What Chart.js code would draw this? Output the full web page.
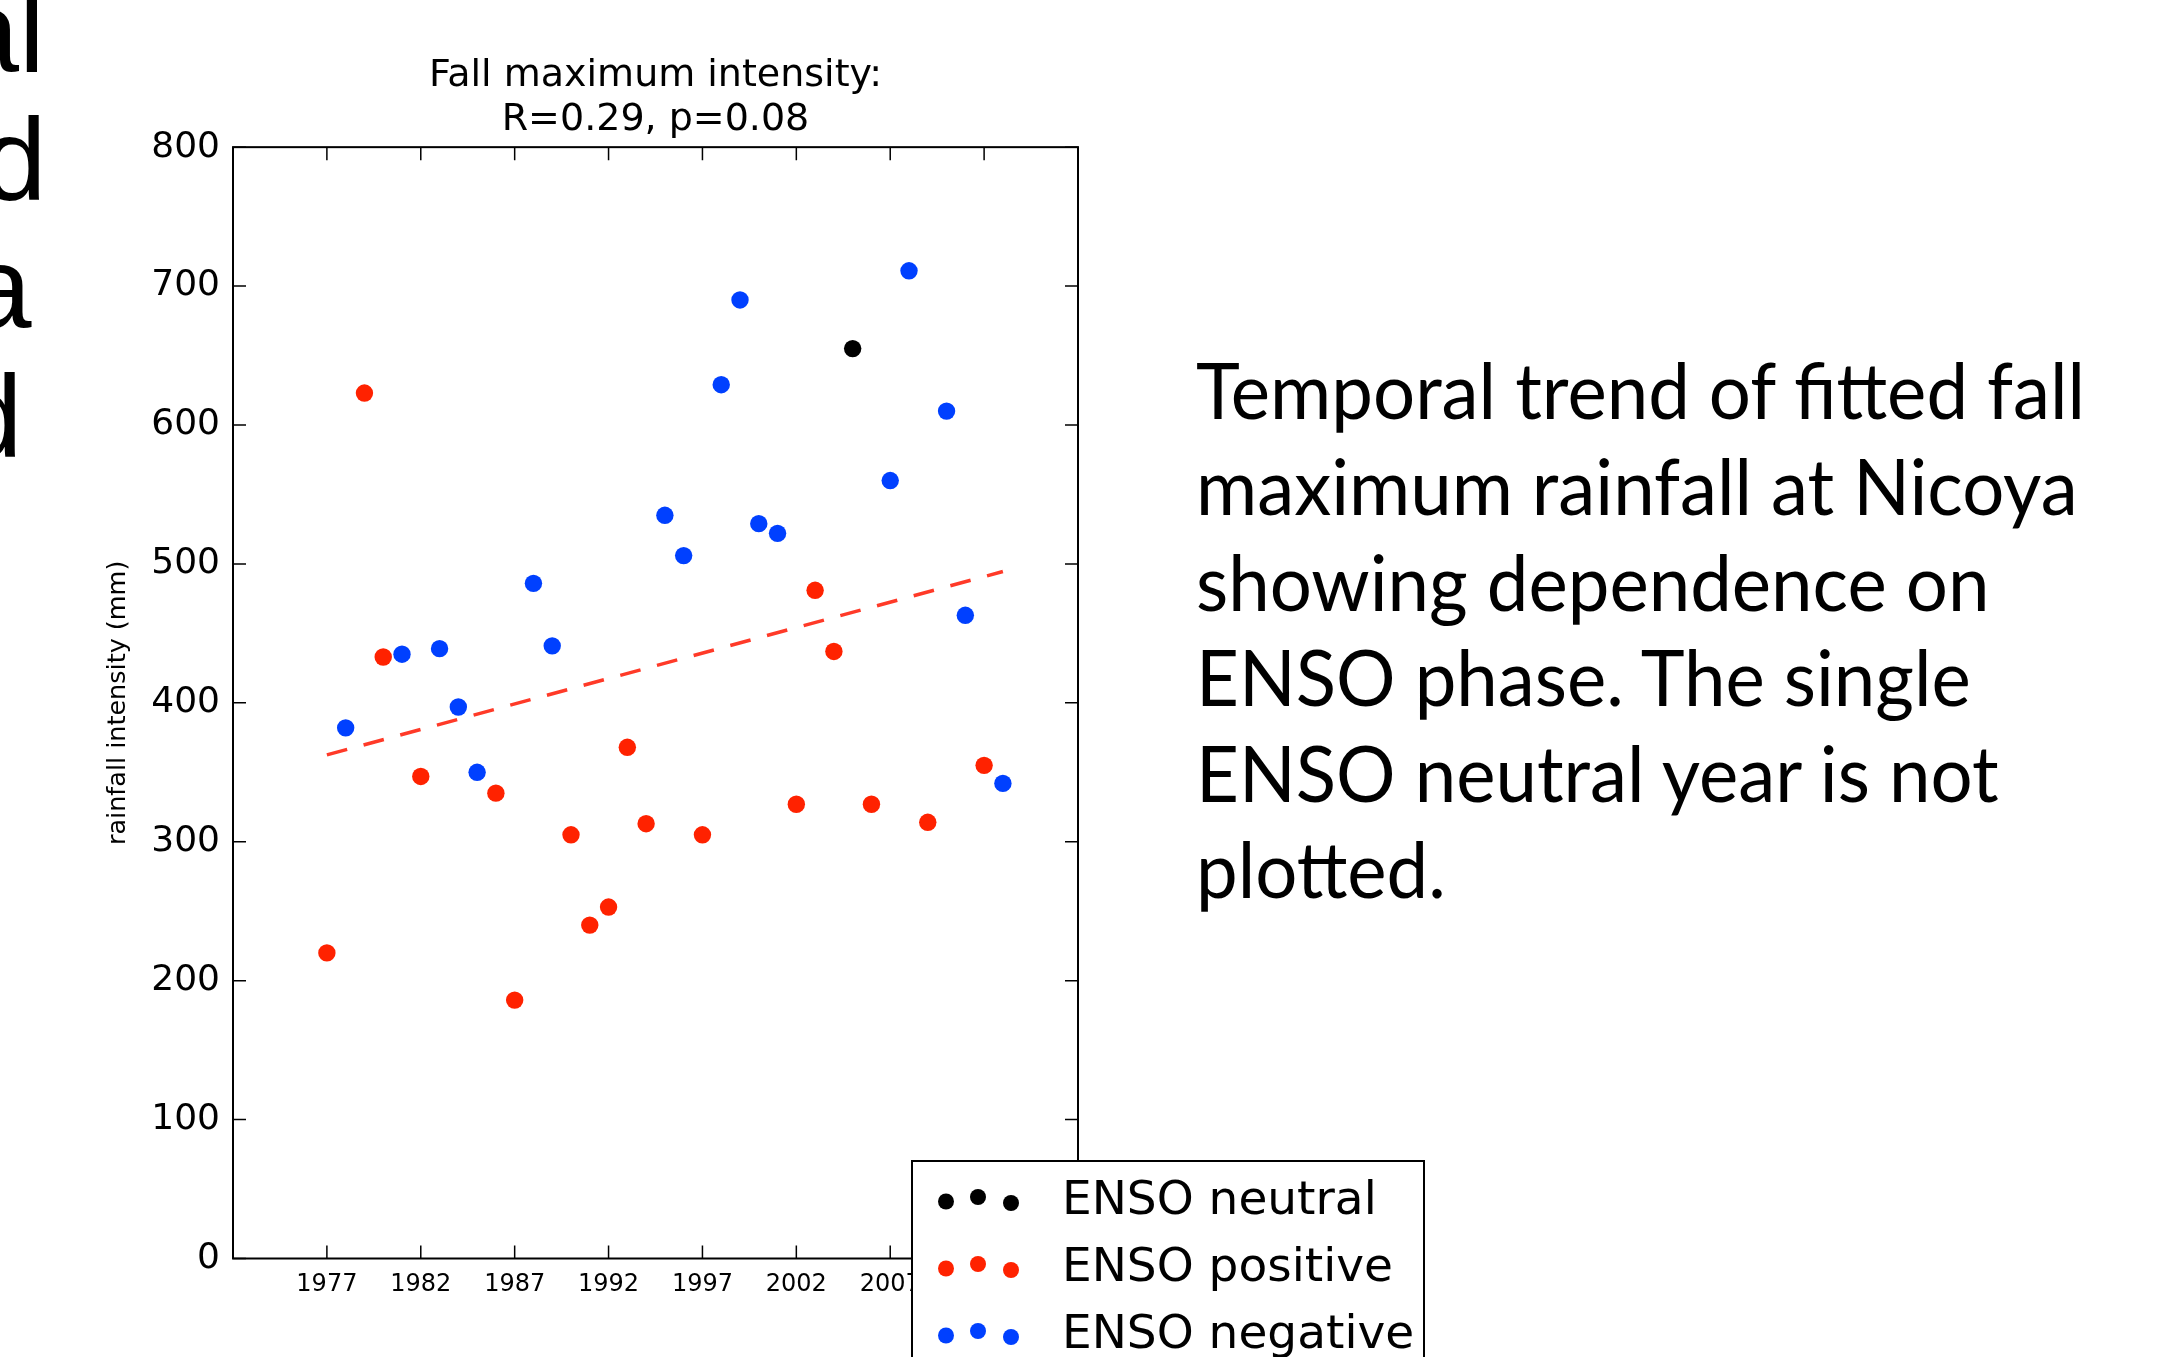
<!DOCTYPE html>
<html><head><meta charset="utf-8">
<script src="https://cdn.jsdelivr.net/npm/chart.js@4.4.1/dist/chart.umd.min.js"></script>
<style>
html,body{margin:0;padding:0;background:#fff;overflow:hidden;width:2173px;height:1357px}
#wrap{position:absolute;left:0;top:0;width:2173px;height:1357px}
.ln{position:absolute;left:0;top:0;white-space:nowrap;color:#000;margin:0;line-height:1.2}
.ln i{display:inline-block;width:0;height:0}
.lf{font-family:"Liberation Sans",Arial,sans-serif;font-size:116px}
.rt{font-family:Lato,"Open Sans",sans-serif;font-size:77px;transform-origin:0 0}
</style></head><body>
<div id="wrap"><canvas id="c" width="2173" height="1357"></canvas></div>
<div id="slide"></div>
<script>
// ---- data ----
const neutralYears   = [2005];
const neutralValues  = [655];
const positiveYears  = [1977,1979,1980,1982,1986,1987,1990,1991,1992,1993,1994,1997,2002,2003,2004,2006,2009,2012];
const positiveValues = [220,623,433,347,335,186,305,240,253,368,313,305,327,481,437,327,314,355];
const negativeYears  = [1978,1981,1983,1984,1985,1988,1989,1995,1996,1998,1999,2000,2001,2007,2008,2010,2011,2013];
const negativeValues = [382,435,439,397,350,486,441,535,506,629,690,529,522,560,711,610,463,342];
const trendYears     = [1977,2013];
const trendValues    = [362.5,494.5];
const xTickYears     = [1977,1982,1987,1992,1997,2002,2007,2012];
const seriesLabels   = ['ENSO neutral','ENSO positive','ENSO negative'];
const titleLines     = ['Fall maximum intensity:','R=0.29, p=0.08'];
const yAxisTitle     = 'rainfall intensity (mm)';
const leftFragments  = ['al','d','a','d'];
const noteLines      = ['Temporal trend of fitted fall','maximum rainfall at Nicoya','showing dependence on','ENSO phase. The single','ENSO neutral year is not','plotted.'];

const pts = (xs, ys) => xs.map((x,i)=>({x:x, y:ys[i]}));
const RED='#ff2200', BLUE='#0040ff', BLACK='#000000';

const frameTicks = {
  id:'frameTicks',
  beforeDatasetsDraw(chart){
    const {ctx, chartArea:a, scales:{x,y}} = chart;
    ctx.save();
    ctx.strokeStyle='#000'; ctx.lineWidth=1.5;
    const L=13;
    ctx.beginPath();
    x.ticks.forEach(t=>{const px=x.getPixelForValue(t.value);
      ctx.moveTo(px,a.bottom); ctx.lineTo(px,a.bottom-L);
      ctx.moveTo(px,a.top); ctx.lineTo(px,a.top+L);});
    y.ticks.forEach(t=>{const py=y.getPixelForValue(t.value);
      ctx.moveTo(a.left,py); ctx.lineTo(a.left+L,py);
      ctx.moveTo(a.right,py); ctx.lineTo(a.right-L,py);});
    ctx.stroke();
    ctx.lineWidth=2;
    ctx.strokeRect(a.left,a.top,a.right-a.left,a.bottom-a.top);
    ctx.restore();
  }
};

const boxLegend = {
  id:'boxLegend',
  afterDraw(chart){
    const ctx=chart.ctx;
    const bx=912, by=1161, bw=512, bh=260;
    ctx.save();
    ctx.fillStyle='#fff'; ctx.fillRect(bx,by,bw,bh);
    ctx.strokeStyle='#000'; ctx.lineWidth=2; ctx.strokeRect(bx,by,bw,bh);
    const rows=[1198,1265,1332];
    const dotX=[946,978,1011], dotDy=[3.5,-1,5];
    ctx.font='47px "DejaVu Sans"'; ctx.textBaseline='alphabetic'; ctx.textAlign='left';
    for(let i=0;i<3;i++){
      const ds=chart.data.datasets[i];
      ctx.fillStyle=ds.backgroundColor;
      dotX.forEach((dx,j)=>{ctx.beginPath(); ctx.arc(dx,rows[i]+dotDy[j],8,0,Math.PI*2); ctx.fill();});
      ctx.fillStyle='#000';
      ctx.fillText(ds.label,1062,rows[i]+16);
    }
    ctx.restore();
  }
};

new Chart(document.getElementById('c'), {
  type:'scatter',
  data:{datasets:[
    {label:seriesLabels[0], data:pts(neutralYears,neutralValues), backgroundColor:BLACK, borderColor:BLACK, order:1},
    {label:seriesLabels[1], data:pts(positiveYears,positiveValues), backgroundColor:RED, borderColor:RED, order:1},
    {label:seriesLabels[2], data:pts(negativeYears,negativeValues), backgroundColor:BLUE, borderColor:BLUE, order:1},
    {label:'trend', data:pts(trendYears,trendValues), showLine:true, pointRadius:0, pointHoverRadius:0,
     borderColor:'#ff3a28', borderWidth:3.5, borderDash:[21,17], fill:false, order:2}
  ]},
  options:{
    responsive:false, animation:false, devicePixelRatio:1,
    layout:{padding:{left:0,top:0,right:1095,bottom:0}},
    elements:{point:{radius:8.7, hoverRadius:8.7, borderWidth:0}},
    plugins:{
      legend:{display:false}, tooltip:{enabled:false},
      title:{display:true, fullSize:false, text:titleLines, color:'#000',
        font:{family:'DejaVu Sans', size:38, weight:'normal', lineHeight:1.16},
        padding:{top:54,bottom:5}}
    },
    scales:{
      x:{type:'linear', min:1972, max:2017,
        afterBuildTicks:s=>{s.ticks=xTickYears.map(v=>({value:v}));},
        afterFit:s=>{s.height=98.5;},
        grid:{display:false, drawTicks:false}, border:{display:false},
        ticks:{color:'#000', font:{family:'DejaVu Sans', size:24}, padding:12, maxRotation:0, autoSkip:false,
          callback:v=>String(v)}},
      y:{type:'linear', min:0, max:800,
        afterFit:s=>{s.width=233;},
        grid:{display:false, drawTicks:false}, border:{display:false},
        ticks:{color:'#000', stepSize:100, font:{family:'DejaVu Sans', size:36}, padding:13,
          callback:v=>String(v)},
        title:{display:true, text:yAxisTitle, color:'#000', font:{family:'DejaVu Sans', size:25.5, lineHeight:1.2},
          padding:{top:103,bottom:0}}}
    }
  },
  plugins:[frameTicks, boxLegend]
});

// ---- slide text around the chart ----
const slide=document.getElementById('slide');
function makeLine(text, cls){
  const d=document.createElement('div'); d.className='ln '+cls;
  d.appendChild(document.createTextNode(text));
  const m=document.createElement('i'); d.appendChild(m);
  slide.appendChild(d); return d;
}
function place(el, left, baseline){
  const b=el.querySelector('i').offsetTop;
  el.style.left=left+'px'; el.style.top=(baseline-b)+'px';
}
const leftPos=[[-45.5,72],[-18,200],[-33,328],[-42,457]];
leftFragments.forEach((t,i)=>place(makeLine(t,'lf'),leftPos[i][0],leftPos[i][1]));
const noteEls=noteLines.map(t=>makeLine(t,'rt'));
const w0=noteEls[0].getBoundingClientRect().width;
const k=889/w0;
noteEls.forEach((el,i)=>{place(el,1196,419+i*95.8); el.style.transform='scaleX('+k+')';});
</script>
</body></html>
